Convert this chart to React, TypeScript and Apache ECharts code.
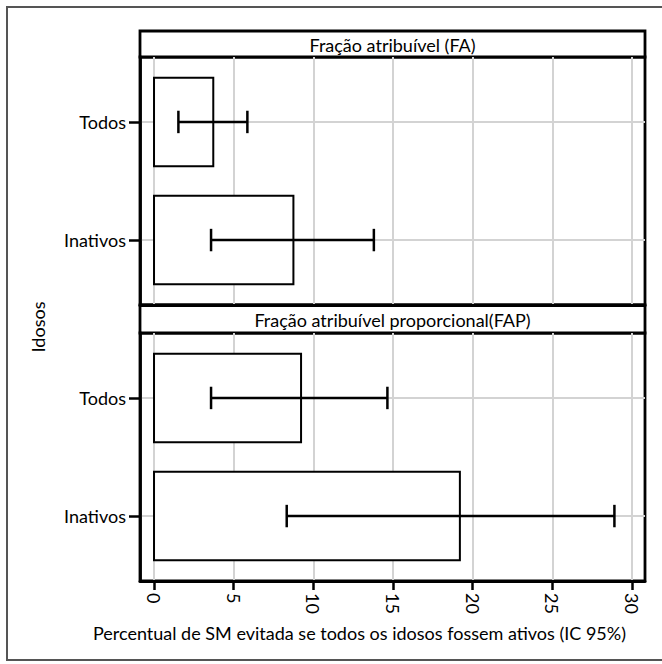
import React, { useEffect, useRef } from 'react';
import * as echarts from 'echarts';

const categories = ['Todos', 'Inativos'];
const faValues = [3.72, 8.75];
const faLower = [1.53, 3.58];
const faUpper = [5.86, 13.8];
const fapValues = [9.23, 19.2];
const fapLower = [3.58, 8.33];
const fapUpper = [14.65, 28.9];
const xTicks = [0, 5, 10, 15, 20, 25, 30];
const panelTitles = ['Fração atribuível (FA)', 'Fração atribuível proporcional(FAP)'];
const xTitle = 'Percentual de SM evitada se todos os idosos fossem ativos (IC 95%)';
const yTitle = 'Idosos';

const FONT = 'Lato';

const renderItem = (params: any, api: any) => {
  const v = api.value(0);
  const lo = api.value(1);
  const hi = api.value(2);
  const yi = api.value(3);
  const base = api.coord([0, yi]);
  const end = api.coord([v, yi]);
  const pLo = api.coord([lo, yi]);
  const pHi = api.coord([hi, yi]);
  const barH = api.size([0, 0.75])[1];
  const capH = api.size([0, 0.19])[1];
  const cy = base[1];
  const ls = { stroke: '#000', lineWidth: 2.5 };
  return {
    type: 'group',
    children: [
      {
        type: 'rect',
        shape: { x: base[0], y: cy - barH / 2, width: end[0] - base[0], height: barH },
        style: { fill: '#fff', stroke: '#000', lineWidth: 2 },
      },
      { type: 'line', shape: { x1: pLo[0], y1: cy, x2: pHi[0], y2: cy }, style: ls },
      { type: 'line', shape: { x1: pLo[0], y1: cy - capH / 2, x2: pLo[0], y2: cy + capH / 2 }, style: ls },
      { type: 'line', shape: { x1: pHi[0], y1: cy - capH / 2, x2: pHi[0], y2: cy + capH / 2 }, style: ls },
    ],
  };
};

export default function App() {
  const ref = useRef<HTMLDivElement>(null);
  useEffect(() => {
    if (!ref.current) return;
    const chart = echarts.init(ref.current, null, { renderer: 'svg' });
    const grids = [
      { left: 140, right: 17, top: 57, height: 248 },
      { left: 140, right: 17, top: 333, height: 248 },
    ].map((g) => ({ ...g, show: true, borderColor: '#000', borderWidth: 2.8 }));

    const xAxes = [0, 1].map((i) => ({
      type: 'value',
      gridIndex: i,
      position: 'bottom',
      min: -0.88,
      max: 30.82,
      axisLine: { show: true, onZero: false, lineStyle: { color: '#000', width: 2.8 } },
      axisTick: {
        show: i === 1,
        customValues: xTicks,
        length: 9,
        lineStyle: { color: '#000', width: 2.5 },
      },
      axisLabel: {
        show: i === 1,
        customValues: xTicks,
        rotate: -90,
        margin: 12,
        color: '#000',
        fontFamily: FONT,
        fontSize: 18,
      },
      splitLine: { show: true, lineStyle: { color: '#d3d3d3', width: 2 } },
    }));

    const yAxes = [0, 1].map((i) => ({
      type: 'value',
      gridIndex: i,
      position: 'left',
      inverse: true,
      min: -0.55,
      max: 1.55,
      axisLine: { show: true, onZero: false, lineStyle: { color: '#000', width: 2.8 } },
      axisTick: {
        show: true,
        customValues: [0, 1],
        length: 11,
        lineStyle: { color: '#000', width: 2.5 },
      },
      axisLabel: {
        customValues: [0, 1],
        formatter: (v: number) => categories[Math.round(v)] ?? '',
        margin: 14,
        color: '#000',
        fontFamily: FONT,
        fontSize: 18,
      },
      splitLine: { show: true, lineStyle: { color: '#d3d3d3', width: 2 } },
    }));

    const faData = categories.map((_, k) => [faValues[k], faLower[k], faUpper[k], k]);
    const fapData = categories.map((_, k) => [fapValues[k], fapLower[k], fapUpper[k], k]);

    const stripY = [31, 305];
    const stripH = [26, 28];

    chart.setOption({
      animation: false,
      backgroundColor: '#fff',
      grid: grids,
      xAxis: xAxes,
      yAxis: yAxes,
      series: [
        {
          type: 'custom',
          xAxisIndex: 0,
          yAxisIndex: 0,
          renderItem,
          encode: { x: [0, 1, 2], y: 3 },
          data: faData,
        },
        {
          type: 'custom',
          xAxisIndex: 1,
          yAxisIndex: 1,
          renderItem,
          encode: { x: [0, 1, 2], y: 3 },
          data: fapData,
        },
      ],
      graphic: [
        {
          type: 'rect',
          shape: { x: 7, y: 7, width: 662, height: 653 },
          style: { fill: 'transparent', stroke: '#555', lineWidth: 2 },
          z: 100,
        },
        ...[0, 1].map((i) => ({
          type: 'group',
          z: 100,
          children: [
            {
              type: 'rect',
              shape: { x: 140, y: stripY[i], width: 505, height: stripH[i] },
              style: { fill: '#fff', stroke: '#000', lineWidth: 2.8 },
            },
            {
              type: 'text',
              x: 392.5,
              y: stripY[i] + stripH[i] / 2 + 1,
              style: {
                text: panelTitles[i],
                fill: '#000',
                font: `18px ${FONT}`,
                align: 'center',
                verticalAlign: 'middle',
              },
            },
          ],
        })),
        {
          type: 'text',
          x: 359.5,
          y: 633,
          z: 100,
          style: {
            text: xTitle,
            fill: '#000',
            font: `18px ${FONT}`,
            align: 'center',
            verticalAlign: 'middle',
          },
        },
        {
          type: 'text',
          x: 38,
          y: 327,
          rotation: Math.PI / 2,
          z: 100,
          style: {
            text: yTitle,
            fill: '#000',
            font: `18px ${FONT}`,
            align: 'center',
            verticalAlign: 'middle',
          },
        },
      ],
    });
    return () => chart.dispose();
  }, []);
  return (
    <div
      ref={ref}
      style={{ position: 'absolute', left: 0, top: 0, width: 662, height: 664 }}
    />
  );
}
